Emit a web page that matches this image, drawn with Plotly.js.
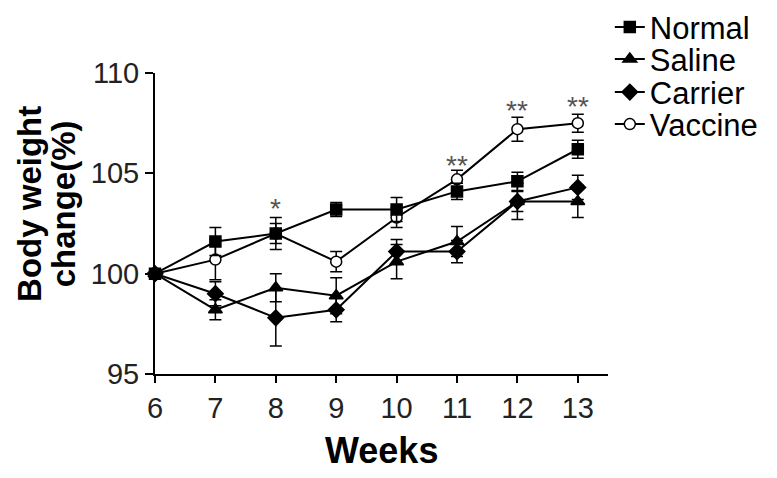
<!DOCTYPE html>
<html>
<head>
<meta charset="utf-8">
<script src="https://cdn.plot.ly/plotly-3.0.1.min.js"></script>
<style>html,body{margin:0;padding:0;background:#fff;}#chart{width:777px;height:478px;}</style>
</head>
<body>
<div id="chart"></div>
<script>
var weeks = [6, 7, 8, 9, 10, 11, 12, 13];
var normal = [100, 101.6, 102.0, 103.2, 103.2, 104.1, 104.6, 106.2];
var normalErr = [0, 0.7, 0.8, 0.35, 0.6, 0.4, 0.45, 0.45];
var saline = [100, 98.2, 99.3, 98.9, 100.6, 101.6, 103.6, 103.6];
var salineErr = [0, 0.5, 0.7, 0.9, 0.85, 0.75, 0.9, 0.8];
var carrier = [100, 99.0, 97.8, 98.2, 101.1, 101.1, 103.6, 104.3];
var carrierErr = [0, 0.6, 1.4, 0.6, 0.6, 0.55, 0.5, 0.6];
var vaccine = [100, 100.7, 102.0, 100.6, 102.8, 104.7, 107.2, 107.5];
var vaccineErr = [0, 1.0, 0.5, 0.5, 0.5, 0.45, 0.6, 0.45];
var seriesNames = ['Normal', 'Saline', 'Carrier', 'Vaccine'];
var starWeeks = [8, 11, 12, 13];
var starY = [103.4, 105.55, 108.3, 108.5];
var starText = ['*', '**', '**', '**'];
var yTicks = [95, 100, 105, 110];

var FONT = 'Liberation Sans, Arial, sans-serif';

function mk(name, y, err, symbol, fill, size, legendId) {
  return {
    x: weeks, y: y, name: name, type: 'scatter', mode: 'lines+markers',
    legend: legendId,
    cliponaxis: false,
    line: {color: '#000', width: 2},
    marker: {symbol: symbol, size: size, color: fill, line: {color: '#000', width: 1.5}},
    error_y: {type: 'data', array: err, visible: true, color: '#000', thickness: 1.5, width: 6}
  };
}

var traces = [
  mk(seriesNames[3], vaccine, vaccineErr, 'circle', '#fff', 11, 'legend4'),
  mk(seriesNames[2], carrier, carrierErr, 'diamond', '#000', 12, 'legend3'),
  mk(seriesNames[1], saline, salineErr, 'triangle-up', '#000', 12, 'legend2'),
  mk(seriesNames[0], normal, normalErr, 'square', '#000', 11, 'legend')
];

var annotations = starWeeks.map(function (w, i) {
  return {x: w, y: starY[i], xref: 'x', yref: 'y', text: starText[i], showarrow: false,
    yshift: -3, font: {family: FONT, size: 28, color: '#555'}};
});
annotations.push({xref: 'paper', yref: 'paper', x: -0.276, y: 0.565, xanchor: 'center', yanchor: 'middle',
  text: '<b>Body weight</b>', textangle: -90, showarrow: false, font: {family: FONT, size: 33, color: '#000'}});
annotations.push({xref: 'paper', yref: 'paper', x: -0.2, y: 0.565, xanchor: 'center', yanchor: 'middle',
  text: '<b>change(%)</b>', textangle: -90, showarrow: false, font: {family: FONT, size: 33, color: '#000'}});
annotations.push({xref: 'paper', yref: 'paper', x: 0.5, y: -0.255, xanchor: 'center', yanchor: 'middle',
  text: '<b>Weeks</b>', showarrow: false, font: {family: FONT, size: 36, color: '#000'}});

function leg(y) {
  return {x: 1.004, y: y, xanchor: 'left', yanchor: 'middle',
    font: {family: FONT, size: 31, color: '#000'}, bgcolor: 'rgba(0,0,0,0)', itemwidth: 30};
}

var layout = {
  width: 777, height: 478,
  margin: {l: 155, r: 169, t: 73, b: 104, autoexpand: false},
  paper_bgcolor: '#fff', plot_bgcolor: '#fff',
  showlegend: true,
  legend: leg(1.1515),
  legend2: leg(1.0452),
  legend3: leg(0.9355),
  legend4: leg(0.8292),
  xaxis: {
    range: [6, 13.5], tickvals: weeks, ticktext: weeks.map(String),
    showgrid: false, zeroline: false, showline: true, linecolor: '#000', linewidth: 2,
    ticks: 'outside', ticklen: 7, tickwidth: 2, tickcolor: '#000',
    tickfont: {family: FONT, size: 29, color: '#222'}
  },
  yaxis: {
    range: [95, 110], tickvals: yTicks, ticktext: yTicks.map(String),
    showgrid: false, zeroline: false, showline: true, linecolor: '#000', linewidth: 2,
    ticks: 'outside', ticklen: 8, tickwidth: 2, tickcolor: '#000',
    tickfont: {family: FONT, size: 29, color: '#222'}
  },
  annotations: annotations
};

Plotly.newPlot('chart', traces, layout, {displayModeBar: false, staticPlot: true});
</script>
</body>
</html>
